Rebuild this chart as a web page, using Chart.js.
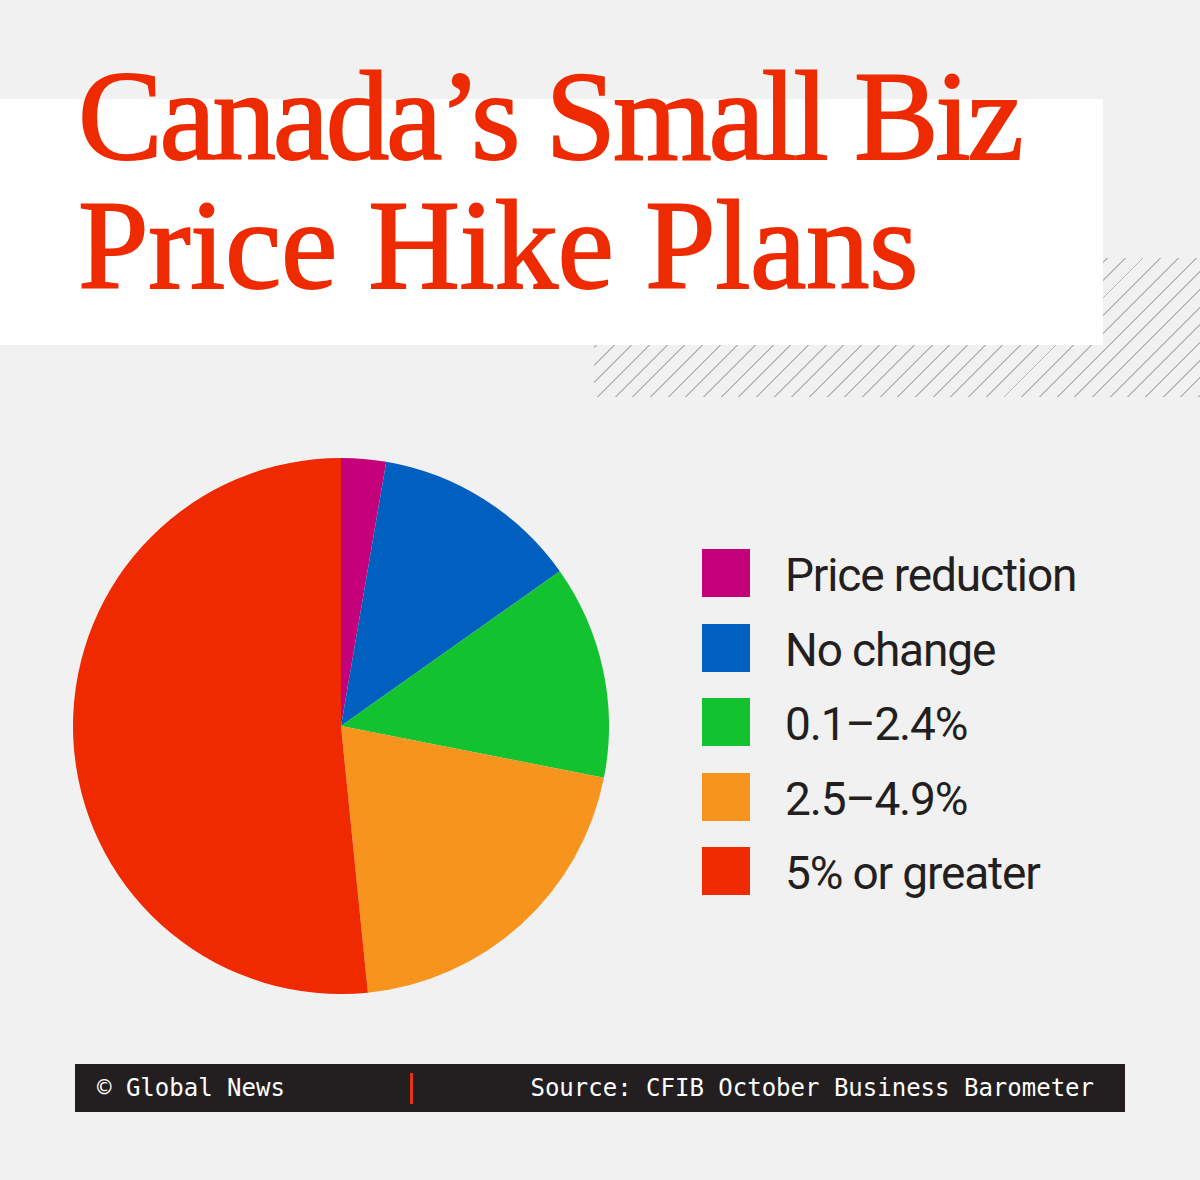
<!DOCTYPE html>
<html>
<head>
<meta charset="utf-8">
<title>Canada's Small Biz Price Hike Plans</title>
<script src="https://cdn.jsdelivr.net/npm/chart.js@4.4.0/dist/chart.umd.min.js"></script>
<style>
  html, body { margin: 0; padding: 0; }
  body { width: 1200px; height: 1180px; background: #f1f1f1; position: relative; overflow: hidden; }
  #hatch {
    position: absolute; left: 594px; top: 258px; width: 606px; height: 139px;
    background: repeating-linear-gradient(135deg, #b8b8b8 0 1.4px, transparent 1.4px 12.5px);
  }
  #titleBox { position: absolute; left: 0; top: 99px; width: 1103px; height: 246px; background: #fff; }
  #title {
    position: absolute; left: 78px; top: 52px;
    font-family: "Liberation Serif", serif; font-size: 127px; line-height: 129px;
    color: #ee2a00; white-space: nowrap;
    -webkit-text-stroke: 1.8px #ee2a00;
  }
  #title .l1 { letter-spacing: -3.3px; }
  #title .l2 { letter-spacing: -0.4px; }
  #pieWrap { position: absolute; left: 73px; top: 458px; width: 536px; height: 536px; }
  .legSwatch { position: absolute; left: 702px; width: 48px; height: 48px; }
  .legText {
    position: absolute; left: 785px; height: 48px; line-height: 48px;
    font-family: Roboto, sans-serif; font-size: 46px; letter-spacing: -1.15px;
    color: #231f20; white-space: nowrap;
  }
  #footer {
    position: absolute; left: 75px; top: 1064px; width: 1050px; height: 48px; background: #231f20;
    font-family: "DejaVu Sans Mono", monospace; font-size: 24px; line-height: 48px; color: #fff;
  }
  #footer .left { position: absolute; left: 22px; top: 0; }
  #footer .right { position: absolute; right: 31px; top: 0; }
  #footer .bar { position: absolute; left: 335px; top: 9px; width: 3px; height: 31px; background: #e63312; }
</style>
</head>
<body>
<div id="hatch"></div>
<div id="titleBox"></div>
<div id="title"><div class="l1">Canada’s Small Biz</div><div class="l2">Price Hike Plans</div></div>
<div id="pieWrap"><canvas id="pieChart" width="536" height="536"></canvas></div>
<div id="legend"></div>
<div id="footer">
  <span class="left">© Global News</span>
  <span class="bar"></span>
  <span class="right">Source: CFIB October Business Barometer</span>
</div>
<script>
// share of small businesses by planned price change (%)
const categories = ["Price reduction", "No change", "0.1–2.4%", "2.5–4.9%", "5% or greater"];
const shares = [2.7, 12.5, 12.9, 20.3, 51.6];
const sliceColors = ["#c4007a", "#005fbf", "#13c22f", "#f7941e", "#f02a00"];

// legend built from the same arrays
const legend = document.getElementById("legend");
categories.forEach(function (name, i) {
    let top = 549 + i * 74.5;
    let sw = document.createElement("div");
    sw.className = "legSwatch";
    sw.style.top = top + "px";
    sw.style.background = sliceColors[i];
    legend.appendChild(sw);
    let tx = document.createElement("div");
    tx.className = "legText";
    tx.style.top = (top + 2) + "px";
    tx.textContent = name;
    legend.appendChild(tx);
});

var ctx = document.getElementById("pieChart").getContext("2d");
var pieChart = new Chart(ctx, {
    type: 'pie',
    data: {
        labels: categories,
        datasets: [{
            data: shares,
            backgroundColor: sliceColors,
            borderWidth: 0,
        }],
    },
    options: {
        responsive: false,
        animation: false,
        layout: { padding: 0 },
        plugins: {
            legend: { display: false },
            tooltip: { enabled: false },
        },
    },
});
</script>
</body>
</html>
